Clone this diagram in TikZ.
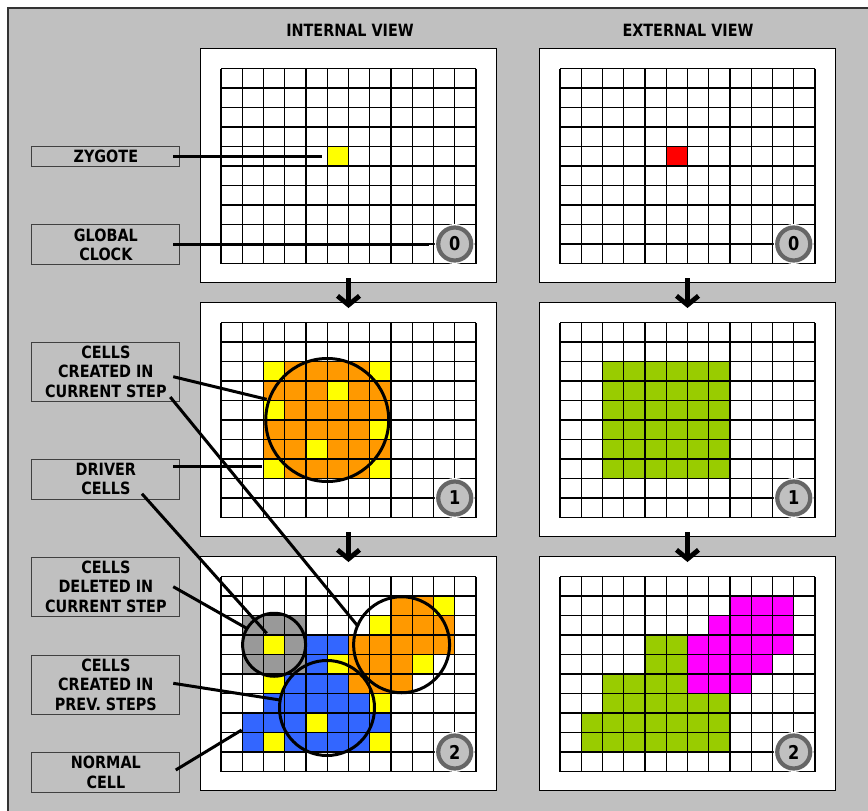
\documentclass[tikz,border=0pt]{standalone}
\usepackage{fontspec}
\newfontfamily\tagfont[FakeStretch=0.85]{DejaVu Sans}
\usetikzlibrary{arrows.meta}

\definecolor{bggray}{HTML}{C0C0C0}
\definecolor{cellyellow}{HTML}{FFFF00}
\definecolor{cellorange}{HTML}{FF9900}
\definecolor{cellblue}{HTML}{3366FF}
\definecolor{cellgray}{HTML}{999999}
\definecolor{cellgreen}{HTML}{99CC00}
\definecolor{cellmagenta}{HTML}{FF00FF}
\definecolor{cellred}{HTML}{FF0000}
\definecolor{ringgray}{HTML}{666666}

\newcommand{\cellgrid}{%
    \foreach \i in {0,...,12} \draw[gridline] ({\i*21.25},0) -- ++(0,195);
    \foreach \j in {0,...,10} \draw[gridline] (0,{\j*19.5}) -- ++(255,0);}
\newcommand{\cells}[2]{%
    \foreach \c/\r in {#2} \fill[#1] ({\c*21.25},{\r*19.5}) rectangle ++(21.25,19.5);}
\newcommand{\cellblock}[5]{%
    \fill[#1] ({#2*21.25},{#3*19.5}) rectangle ({(#4+1)*21.25},{(#5+1)*19.5});}

\begin{document}
\begin{tikzpicture}[
    x=1pt, y=-1pt,
    font=\tagfont\bfseries\fontsize{16.9}{19.5}\selectfont,
    panel/.style={rectangle, draw=black, line width=1.3pt, fill=white, minimum width=296pt, minimum height=234pt, inner sep=0pt, outer sep=0pt},
    note/.style={rectangle, draw=black!75, line width=0.8pt, minimum width=148pt, inner sep=0pt, align=center},
    gridline/.style={line width=1.3pt, black},
    ring/.style={draw=black, line width=3pt},
    badge/.style={circle, draw=ringgray, line width=4.2pt, fill=bggray, minimum size=33pt, inner sep=0pt, preaction={draw=white, line width=7pt}, font=\tagfont\bfseries\fontsize{19}{19}\selectfont},
    link/.style={line width=3pt, black},
    flow/.style={line width=4.8pt, -{Straight Barb[length=9pt, width=22pt]}, shorten <=-4.5pt, shorten >=-5.5pt}
]
    \useasboundingbox (0,0) rectangle (868,811);
    \clip (0,0) rectangle (868,811);
    \fill[white] (0,0) rectangle (868,811);
    \fill[bggray] (8,8) rectangle (880,820);
    \draw[line width=1.3pt, black!80] (8,820) -- (8,8) -- (880,8);

    \node (intitle) at (350,30) {INTERNAL VIEW};
    \node (exttitle) at (688,30) {EXTERNAL VIEW};

    \node[panel] (int0) at (348.5,165.5) {};
    \node[panel, below of=int0, node distance=254pt] (int1) {};
    \node[panel, below of=int1, node distance=254pt] (int2) {};
    \node[panel, right of=int0, node distance=339pt] (ext0) {};
    \node[panel, right of=int1, node distance=339pt] (ext1) {};
    \node[panel, right of=int2, node distance=339pt] (ext2) {};

    % step 0
    \begin{scope}[shift={(int0.north west)}, xshift=20.5pt, yshift=-20pt]
        \cells{cellyellow}{5/4}
        \cellgrid
        \node[badge] (tick0) at (233.75,175.5) {0};
    \end{scope}
    \begin{scope}[shift={(ext0.north west)}, xshift=20.5pt, yshift=-20pt]
        \cells{cellred}{5/4}
        \cellgrid
        \node[badge] (tock0) at (233.75,175.5) {0};
    \end{scope}

    % step 1
    \begin{scope}[shift={(int1.north west)}, xshift=20.5pt, yshift=-20pt]
        \cellblock{cellorange}{2}{2}{7}{7}
        \cells{cellyellow}{2/2,7/2,5/3,2/4,7/5,4/6,2/7,7/7}
        \cellgrid
        \draw[ring] (106.25,97.5) circle (61.5);
        \node[badge] (tick1) at (233.75,175.5) {1};
    \end{scope}
    \begin{scope}[shift={(ext1.north west)}, xshift=20.5pt, yshift=-20pt]
        \cellblock{cellgreen}{2}{2}{7}{7}
        \cellgrid
        \node[badge] (tock1) at (233.75,175.5) {1};
    \end{scope}

    % step 2
    \begin{scope}[shift={(int2.north west)}, xshift=20.5pt, yshift=-20pt]
        \cellblock{cellgray}{1}{2}{3}{4}
        \cellblock{cellorange}{8}{1}{9}{1}
        \cellblock{cellorange}{8}{2}{10}{2}
        \cellblock{cellorange}{6}{3}{10}{3}
        \cellblock{cellorange}{6}{4}{8}{5}
        \cellblock{cellblue}{4}{3}{5}{3}
        \cellblock{cellblue}{4}{4}{4}{4}
        \cellblock{cellblue}{3}{5}{5}{5}
        \cellblock{cellblue}{2}{6}{6}{6}
        \cellblock{cellblue}{1}{7}{7}{8}
        \cells{cellyellow}{10/1,7/2,2/3,5/4,9/4,2/5,7/6,4/7,2/8,7/8}
        \cellgrid
        \draw[ring] (53.1,68.25) circle (31.5);
        \draw[ring] (180.6,68.25) circle (48);
        \draw[ring] (106,131.5) circle (47.5);
        \node[badge] (tick2) at (233.75,175.5) {2};
    \end{scope}
    \begin{scope}[shift={(ext2.north west)}, xshift=20.5pt, yshift=-20pt]
        \cellblock{cellmagenta}{8}{1}{10}{1}
        \cellblock{cellmagenta}{7}{2}{10}{2}
        \cellblock{cellmagenta}{6}{3}{10}{3}
        \cellblock{cellmagenta}{6}{4}{9}{4}
        \cellblock{cellmagenta}{6}{5}{8}{5}
        \cellblock{cellgreen}{4}{3}{5}{4}
        \cellblock{cellgreen}{2}{5}{5}{5}
        \cellblock{cellgreen}{2}{6}{7}{6}
        \cellblock{cellgreen}{1}{7}{7}{8}
        \cellgrid
        \node[badge] (tock2) at (233.75,175.5) {2};
    \end{scope}

    \draw[flow] (int0.south) -- (int1.north);
    \draw[flow] (int1.south) -- (int2.north);
    \draw[flow] (ext0.south) -- (ext1.north);
    \draw[flow] (ext1.south) -- (ext2.north);

    \node[note, minimum height=20pt] (zygote) at (105.85,156.7) {ZYGOTE};
    \node[note, minimum height=39.5pt] (clock) at (105.85,244.6) {GLOBAL\\CLOCK};
    \node[note, minimum height=58.7pt] (created) at (105.85,371.6) {CELLS\\CREATED IN\\CURRENT STEP};
    \node[note, minimum height=39.7pt] (driver) at (105.85,479.2) {DRIVER\\CELLS};
    \node[note, minimum height=58.7pt] (deleted) at (105.85,586.7) {CELLS\\DELETED IN\\CURRENT STEP};
    \node[note, minimum height=58.3pt] (prev) at (105.85,684.8) {CELLS\\CREATED IN\\PREV. STEPS};
    \node[note, minimum height=39.6pt] (normal) at (105.85,772.5) {NORMAL\\CELL};

    \coordinate (zygend) at (322,156.7);
    \coordinate (clockend) at (429,244.6);
    \coordinate (createdend) at (266.7,399.3);
    \coordinate (createdend2) at (358.3,626.7);
    \coordinate (driverend) at (261.7,466.7);
    \coordinate (driverend2) at (266.7,633.3);
    \coordinate (deletedend) at (246.7,628.3);
    \coordinate (prevend) at (280,700);
    \coordinate (normalend) at (241.7,730);

    \draw[link] ([xshift=-7pt]zygote.east) -- (zygend);
    \draw[link] ([xshift=-7pt]clock.east) -- (clockend);
    \draw[link] ([shift={(-7,5.1)}]created.east) -- (createdend);
    \draw[link] ([shift={(-10,-4.3)}]created.south east) -- (createdend2);
    \draw[link] ([shift={(-7,-12.5)}]driver.east) -- (driverend);
    \draw[link] ([shift={(-38.3,-5.7)}]driver.south east) -- (driverend2);
    \draw[link] ([xshift=-7pt]deleted.east) -- (deletedend);
    \draw[link] ([shift={(-7,-1.5)}]prev.east) -- (prevend);
    \draw[link] ([shift={(-4.5,-2.5)}]normal.east) -- (normalend);
\end{tikzpicture}
\end{document}
